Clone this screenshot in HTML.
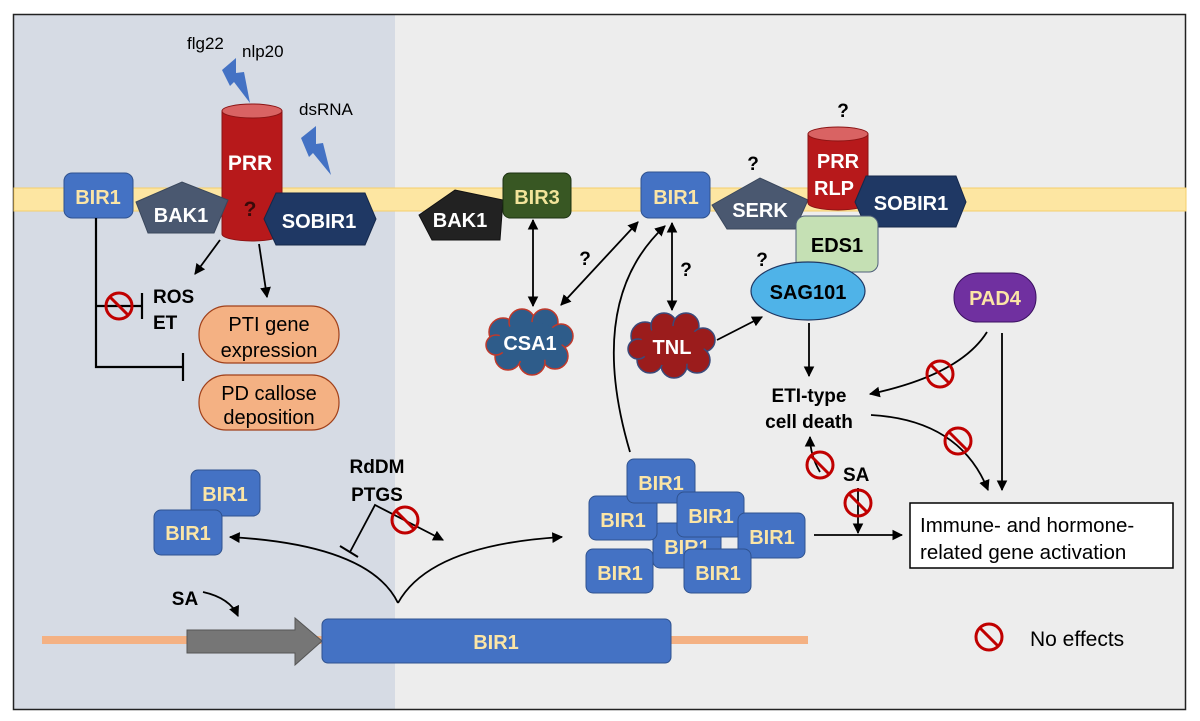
<!DOCTYPE html>
<html><head><meta charset="utf-8"><style>
html,body{margin:0;padding:0;background:#fff;}
svg{display:block;font-family:"Liberation Sans",Arial,sans-serif;}
.b{font-weight:bold;}
</style></head><body>
<svg width="1200" height="721" viewBox="0 0 1200 721" xmlns="http://www.w3.org/2000/svg">
<defs>
<marker id="a" viewBox="0 0 10 10" refX="9" refY="5" markerWidth="6" markerHeight="6" orient="auto-start-reverse"><path d="M0,0 L10,5 L0,10 z" fill="#000"/></marker>
<g id="no"><circle r="13" fill="none" stroke="#c00000" stroke-width="3"/><line x1="-9" y1="-9" x2="9" y2="9" stroke="#c00000" stroke-width="3"/></g>
</defs>
<rect x="0" y="0" width="1200" height="721" fill="#fff"/>
<rect x="14" y="15" width="381" height="695" fill="#d6dbe4"/>
<rect x="395" y="15" width="791" height="695" fill="#ededed"/>
<rect x="13.5" y="14.5" width="1172" height="695" fill="none" stroke="#222" stroke-width="1.5"/>
<rect x="14" y="188" width="1172" height="23" fill="#fde6a2" stroke="#f5cf6a" stroke-width="1"/>

<!-- LEFT -->
<text x="187" y="49" font-size="17">flg22</text>
<text x="242" y="57" font-size="17">nlp20</text>
<polygon points="222,70 236,58 236,73 244,72 250,103 234,82 230,86" fill="#4472c4"/>
<text x="299" y="115" font-size="17">dsRNA</text>
<polygon points="301,138 316,126 316,144 323,143 331,175 313,153 309,157" fill="#4472c4"/>
<path d="M222,111 L222,234 A30,7 0 0 0 282,234 L282,111 Z" fill="#b7191b" stroke="#8a1414" stroke-width="1"/>
<ellipse cx="252" cy="111" rx="30" ry="7" fill="#d96363" stroke="#8a1414"/>
<text x="250" y="170" font-size="21" fill="#fff" class="b" text-anchor="middle">PRR</text>
<text x="250" y="216" font-size="21" fill="#3a0a0a" class="b" text-anchor="middle">?</text>
<polygon points="136,202 182,182 228,200 214,233 148,233" fill="#4a5870" stroke="#3a475c"/>
<text x="181" y="222" font-size="20" fill="#fff" class="b" text-anchor="middle">BAK1</text>
<polygon points="264,219 276,193 365,193 376,219 365,245 276,245" fill="#1f3864" stroke="#15284a"/>
<text x="319" y="228" font-size="20" fill="#fff" class="b" text-anchor="middle">SOBIR1</text>
<rect x="64" y="173" width="69" height="45" rx="8" fill="#4472c4" stroke="#2f528f"/>
<text x="98" y="204" font-size="20" fill="#fbe5a6" class="b" text-anchor="middle">BIR1</text>
<line x1="220" y1="240" x2="195" y2="274" stroke="#000" stroke-width="1.8" marker-end="url(#a)"/>
<line x1="259" y1="244" x2="267" y2="297" stroke="#000" stroke-width="1.8" marker-end="url(#a)"/>
<polyline points="96,218 96,367 183,367" fill="none" stroke="#000" stroke-width="2.2"/>
<line x1="183" y1="353" x2="183" y2="381" stroke="#000" stroke-width="2.2"/>
<line x1="96" y1="306" x2="142" y2="306" stroke="#000" stroke-width="2.2"/>
<line x1="142" y1="293" x2="142" y2="319" stroke="#000" stroke-width="2.2"/>
<use href="#no" x="119" y="306"/>
<text x="153" y="303" font-size="19" class="b">ROS</text>
<text x="153" y="329" font-size="19" class="b">ET</text>
<rect x="199" y="306" width="140" height="57" rx="28" fill="#f4b183" stroke="#a0401a" stroke-width="1.2"/>
<text x="269" y="331" font-size="20" text-anchor="middle">PTI gene</text>
<text x="269" y="357" font-size="20" text-anchor="middle">expression</text>
<rect x="199" y="375" width="140" height="55" rx="27" fill="#f4b183" stroke="#a0401a" stroke-width="1.2"/>
<text x="269" y="400" font-size="20" text-anchor="middle">PD callose</text>
<text x="269" y="424" font-size="20" text-anchor="middle">deposition</text>

<!-- RIGHT membrane proteins -->
<polygon points="419,215 455,190 503,200 500,240 432,240" fill="#222" stroke="#111"/>
<text x="460" y="227" font-size="20" fill="#fff" class="b" text-anchor="middle">BAK1</text>
<rect x="503" y="173" width="68" height="45" rx="7" fill="#385723" stroke="#1d3212"/>
<text x="537" y="204" font-size="20" fill="#f2e49a" class="b" text-anchor="middle">BIR3</text>
<rect x="641" y="172" width="69" height="46" rx="8" fill="#4472c4" stroke="#2f528f"/>
<text x="676" y="204" font-size="20" fill="#fbe5a6" class="b" text-anchor="middle">BIR1</text>
<polygon points="712,205 760,178 808,200 795,229 727,229" fill="#4a5870" stroke="#3a475c"/>
<text x="760" y="217" font-size="20" fill="#fff" class="b" text-anchor="middle">SERK</text>
<text x="753" y="170" font-size="19" class="b" text-anchor="middle">?</text>
<path d="M808,134 L808,203 A30,7 0 0 0 868,203 L868,134 Z" fill="#b7191b" stroke="#8a1414"/>
<ellipse cx="838" cy="134" rx="30" ry="7" fill="#d96363" stroke="#8a1414"/>
<text x="838" y="168" font-size="20" fill="#fff" class="b" text-anchor="middle">PRR</text>
<text x="834" y="195" font-size="20" fill="#fff" class="b" text-anchor="middle">RLP</text>
<text x="843" y="117" font-size="19" class="b" text-anchor="middle">?</text>
<polygon points="855,202 866,176 956,176 966,202 956,227 866,227" fill="#1f3864" stroke="#15284a"/>
<text x="911" y="210" font-size="20" fill="#fff" class="b" text-anchor="middle">SOBIR1</text>
<rect x="796" y="216" width="82" height="56" rx="9" fill="#c5e0b4" stroke="#50607a"/>
<text x="837" y="252" font-size="20" class="b" text-anchor="middle">EDS1</text>
<ellipse cx="808" cy="291" rx="57" ry="29" fill="#4fb3e8" stroke="#1f3864" stroke-width="1.2"/>
<text x="808" y="299" font-size="20" class="b" text-anchor="middle">SAG101</text>
<text x="762" y="266" font-size="19" class="b" text-anchor="middle">?</text>
<rect x="954" y="273" width="82" height="49" rx="24" fill="#7030a0" stroke="#3a1060"/>
<text x="995" y="305" font-size="20" fill="#fbe5a6" class="b" text-anchor="middle">PAD4</text>

<g stroke="#c0392b" stroke-width="1.5" fill="#2e5c8a">
<circle cx="503" cy="332" r="14"/><circle cx="522" cy="322" r="13"/><circle cx="545" cy="322" r="13"/><circle cx="561" cy="336" r="12"/><circle cx="555" cy="356" r="13"/><circle cx="532" cy="362" r="13"/><circle cx="508" cy="357" r="13"/><circle cx="496" cy="345" r="10"/>
</g>
<ellipse cx="530" cy="342" rx="32" ry="20" fill="#2e5c8a"/>
<text x="530" y="350" font-size="20" fill="#fff" class="b" text-anchor="middle">CSA1</text>
<g stroke="#3b4a7a" stroke-width="1.5" fill="#9b1c1c">
<circle cx="645" cy="336" r="14"/><circle cx="664" cy="326" r="13"/><circle cx="686" cy="326" r="13"/><circle cx="703" cy="340" r="12"/><circle cx="697" cy="360" r="13"/><circle cx="674" cy="365" r="13"/><circle cx="650" cy="360" r="13"/><circle cx="638" cy="349" r="10"/>
</g>
<ellipse cx="672" cy="346" rx="32" ry="20" fill="#9b1c1c"/>
<text x="672" y="354" font-size="20" fill="#fff" class="b" text-anchor="middle">TNL</text>

<line x1="533" y1="220" x2="533" y2="306" stroke="#000" stroke-width="1.8" marker-start="url(#a)" marker-end="url(#a)"/>
<line x1="561" y1="305" x2="638" y2="222" stroke="#000" stroke-width="1.8" marker-start="url(#a)" marker-end="url(#a)"/>
<text x="585" y="265" font-size="19" class="b" text-anchor="middle">?</text>
<line x1="672" y1="223" x2="672" y2="310" stroke="#000" stroke-width="1.8" marker-start="url(#a)" marker-end="url(#a)"/>
<text x="686" y="276" font-size="19" class="b" text-anchor="middle">?</text>
<path d="M630,452 Q585,300 665,226" fill="none" stroke="#000" stroke-width="1.8" marker-end="url(#a)"/>
<line x1="717" y1="340" x2="762" y2="317" stroke="#000" stroke-width="1.8" marker-end="url(#a)"/>
<line x1="809" y1="323" x2="809" y2="376" stroke="#000" stroke-width="1.8" marker-end="url(#a)"/>
<text x="809" y="402" font-size="19" class="b" text-anchor="middle">ETI-type</text>
<text x="809" y="428" font-size="19" class="b" text-anchor="middle">cell death</text>
<path d="M987,332 Q960,375 870,394" fill="none" stroke="#000" stroke-width="1.8" marker-end="url(#a)"/>
<use href="#no" x="940" y="374"/>
<line x1="1002" y1="333" x2="1002" y2="490" stroke="#000" stroke-width="1.8" marker-end="url(#a)"/>
<path d="M871,415 Q960,420 988,490" fill="none" stroke="#000" stroke-width="1.8" marker-end="url(#a)"/>
<use href="#no" x="958" y="441"/>
<path d="M820,472 Q810,455 810,437" fill="none" stroke="#000" stroke-width="1.8" marker-end="url(#a)"/>
<use href="#no" x="820" y="465"/>
<text x="843" y="481" font-size="19" class="b">SA</text>
<line x1="858" y1="488" x2="858" y2="533" stroke="#000" stroke-width="1.8" marker-end="url(#a)"/>
<use href="#no" x="858" y="503"/>
<line x1="814" y1="535" x2="902" y2="535" stroke="#000" stroke-width="1.8" marker-end="url(#a)"/>
<rect x="910" y="503" width="263" height="65" fill="#fff" stroke="#000" stroke-width="1.5"/>
<text x="920" y="532" font-size="20.5">Immune- and hormone-</text>
<text x="920" y="559" font-size="20.5">related gene activation</text>
<use href="#no" x="989" y="637"/>
<text x="1030" y="646" font-size="21">No effects</text>

<rect x="42" y="636" width="766" height="8" fill="#f4b183"/>
<polygon points="187,630 295,630 295,618 322,641 295,665 295,653 187,653" fill="#767676" stroke="#555"/>
<rect x="322" y="619" width="349" height="44" rx="6" fill="#4472c4" stroke="#2f528f"/>
<text x="496" y="649" font-size="20" fill="#fbe5a6" class="b" text-anchor="middle">BIR1</text>
<text x="185" y="605" font-size="19" class="b" text-anchor="middle">SA</text>
<path d="M203,592 Q230,598 238,616" fill="none" stroke="#000" stroke-width="1.8" marker-end="url(#a)"/>
<path d="M398,603 Q370,545 230,537" fill="none" stroke="#000" stroke-width="1.8" marker-end="url(#a)"/>
<path d="M398,603 Q430,545 562,537" fill="none" stroke="#000" stroke-width="1.8" marker-end="url(#a)"/>
<text x="377" y="473" font-size="19" class="b" text-anchor="middle">RdDM</text>
<text x="377" y="501" font-size="19" class="b" text-anchor="middle">PTGS</text>
<polyline points="350,552 375,505 443,540" fill="none" stroke="#000" stroke-width="1.8" marker-end="url(#a)"/>
<line x1="340" y1="546" x2="358" y2="557" stroke="#000" stroke-width="2"/>
<use href="#no" x="405" y="520"/>

<g fill="#4472c4" stroke="#2f528f">
<rect x="191" y="470" width="69" height="46" rx="7"/>
<rect x="154" y="510" width="68" height="45" rx="7"/>
</g>
<text x="225" y="501" font-size="20" fill="#fbe5a6" class="b" text-anchor="middle">BIR1</text>
<text x="188" y="540" font-size="20" fill="#fbe5a6" class="b" text-anchor="middle">BIR1</text>

<g font-size="20" fill="#fbe5a6" class="b" text-anchor="middle">
<rect x="653" y="523" width="68" height="45" rx="7" fill="#4472c4" stroke="#2f528f"/><text x="687" y="554">BIR1</text>
<rect x="589" y="496" width="68" height="44" rx="7" fill="#4472c4" stroke="#2f528f"/><text x="623" y="527">BIR1</text>
<rect x="627" y="459" width="68" height="44" rx="7" fill="#4472c4" stroke="#2f528f"/><text x="661" y="490">BIR1</text>
<rect x="677" y="492" width="67" height="45" rx="7" fill="#4472c4" stroke="#2f528f"/><text x="711" y="523">BIR1</text>
<rect x="738" y="513" width="67" height="45" rx="7" fill="#4472c4" stroke="#2f528f"/><text x="772" y="544">BIR1</text>
<rect x="586" y="549" width="67" height="44" rx="7" fill="#4472c4" stroke="#2f528f"/><text x="620" y="580">BIR1</text>
<rect x="684" y="549" width="67" height="44" rx="7" fill="#4472c4" stroke="#2f528f"/><text x="718" y="580">BIR1</text>
</g>
</svg>
</body></html>
